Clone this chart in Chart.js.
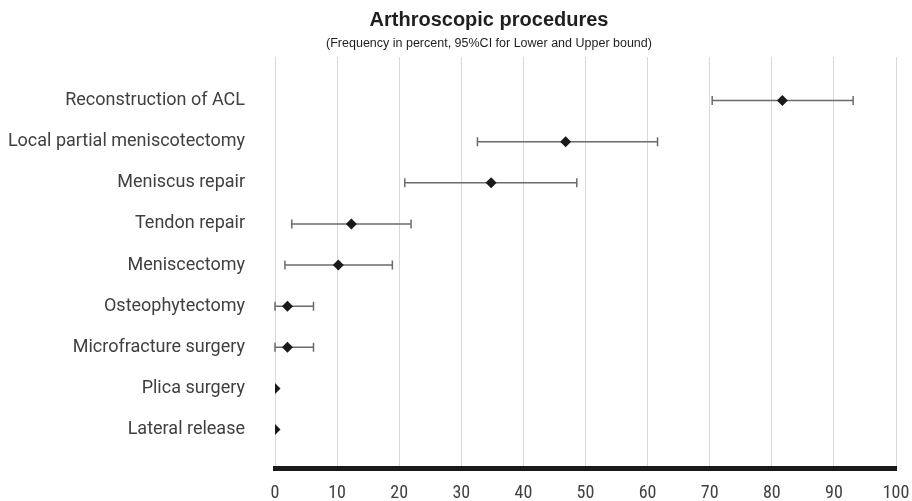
<!DOCTYPE html>
<html>
<head>
<meta charset="utf-8">
<script src="https://cdn.jsdelivr.net/npm/chart.js@4.4.1/dist/chart.umd.min.js"></script>
<style>
  body { margin: 0; background: #fff; }
  #wrap { width: 912px; height: 501px; }
</style>
</head>
<body>
<div id="wrap"><canvas id="procChart" width="912" height="501"></canvas></div>
<script>
const categories = [
  "Reconstruction of ACL",
  "Local partial meniscotectomy",
  "Meniscus repair",
  "Tendon repair",
  "Meniscectomy",
  "Osteophytectomy",
  "Microfracture surgery",
  "Plica surgery",
  "Lateral release"
];
const frequency = [81.7, 46.8, 34.8, 12.3, 10.2, 2.0, 2.0, 0, 0];
const lowerBound = [70.4, 32.6, 20.9, 2.7, 1.6, 0, 0, 0, 0];
const upperBound = [93.1, 61.6, 48.6, 21.9, 18.9, 6.2, 6.2, 0, 0];
const xTicks = [0, 10, 20, 30, 40, 50, 60, 70, 80, 90, 100];

const titleText = "Arthroscopic procedures";
const subtitleText = "(Frequency in percent, 95%CI for Lower and Upper bound)";

// error bars drawn under the diamonds
const errorBars = {
  id: "errorBars",
  beforeDatasetsDraw(chart) {
    const ctx = chart.ctx;
    const xs = chart.scales.x, ys = chart.scales.y;
    ctx.save();
    ctx.strokeStyle = "#6b6b6b";
    ctx.lineWidth = 1.5;
    categories.forEach((c, i) => {
      if (upperBound[i] <= lowerBound[i]) return;
      const y = ys.getPixelForValue(i + 1);
      const x1 = xs.getPixelForValue(lowerBound[i]);
      const x2 = xs.getPixelForValue(upperBound[i]);
      ctx.beginPath();
      ctx.moveTo(x1, y); ctx.lineTo(x2, y);
      ctx.moveTo(x1, y - 4.5); ctx.lineTo(x1, y + 4.5);
      ctx.moveTo(x2, y - 4.5); ctx.lineTo(x2, y + 4.5);
      ctx.stroke();
    });
    ctx.restore();
  }
};

const titles = {
  id: "titles",
  afterDraw(chart) {
    const ctx = chart.ctx;
    ctx.save();
    ctx.fillStyle = "#1f1f1f";
    ctx.textAlign = "center";
    ctx.textBaseline = "middle";
    ctx.font = "bold 20px 'Liberation Sans', Arial, sans-serif";
    ctx.fillText(titleText, 489, 20);
    ctx.font = "12.5px 'Liberation Sans', Arial, sans-serif";
    ctx.fillText(subtitleText, 489, 44);
    ctx.restore();
  }
};

new Chart(document.getElementById("procChart"), {
  type: "scatter",
  data: {
    datasets: [{
      label: "Frequency",
      data: frequency.map((v, i) => ({ x: v, y: i + 1 })),
      pointStyle: "rectRot",
      pointRadius: 5.5,
      pointHoverRadius: 5.5,
      backgroundColor: "#1a1a1a",
      borderColor: "#1a1a1a",
      borderWidth: 0
    }]
  },
  options: {
    responsive: false,
    animation: false,
    layout: { padding: { top: 57, right: 16, left: 0, bottom: 0 } },
    plugins: {
      legend: { display: false },
      tooltip: { enabled: false },
      title: { display: false }
    },
    scales: {
      x: {
        type: "linear",
        min: 0,
        max: 100,
        afterBuildTicks: (s) => { s.ticks = xTicks.map(v => ({ value: v })); },
        afterFit: (s) => { s.height = 30; s.paddingLeft = 0; s.paddingRight = 0; },
        grid: { color: "#d9d9d9", lineWidth: 1, drawTicks: false },
        border: { display: true, color: "#1a1a1a", width: 5 },
        ticks: {
          padding: 14,
          color: "#404040",
          font: { family: "'Liberation Sans Narrow', 'Roboto Condensed', Roboto, sans-serif", size: 18 }
        }
      },
      y: {
        type: "linear",
        reverse: true,
        min: -0.06,
        max: 9.94,
        afterBuildTicks: (s) => { s.ticks = categories.map((c, i) => ({ value: i + 1 })); },
        afterFit: (s) => { s.width = 275; },
        grid: { display: false },
        border: { display: false },
        ticks: {
          padding: 22,
          autoSkip: false,
          color: "#404040",
          font: { family: "Roboto, sans-serif", size: 18 },
          callback: (v) => categories[v - 1] || ""
        }
      }
    }
  },
  plugins: [errorBars, titles]
});
</script>
</body>
</html>
